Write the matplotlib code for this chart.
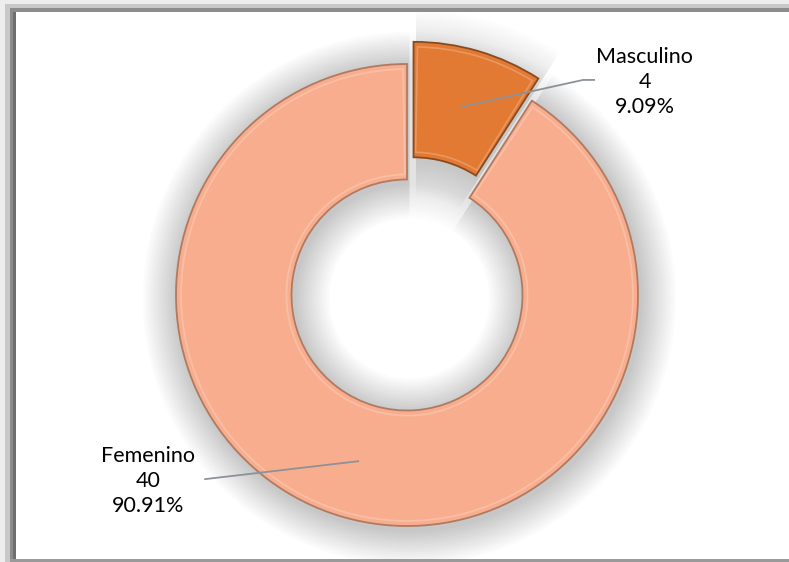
import matplotlib
matplotlib.use("Agg")
import matplotlib.pyplot as plt
import matplotlib.patches as mpatches
import numpy as np

# ---- data ----
labels = ["Masculino", "Femenino"]
values = [4, 40]
percents = ["9.09%", "90.91%"]
colors = ["#E27A33", "#F8AE8E"]
edge_colors = ["#8A4A20", "#B07A60"]
explode = [0.1, 0.0]

plt.rcParams['font.family'] = ['Lato', 'DejaVu Sans']

W, H = 789, 562
fig = plt.figure(figsize=(W / 100, H / 100), dpi=100)
fig.patch.set_facecolor("white")

# frame decoration (figure pixel coords -> fraction)
def frect(x0, y0, x1, y1, color):
    fig.patches.append(mpatches.Rectangle((x0 / W, 1 - y1 / H), (x1 - x0) / W, (y1 - y0) / H,
                                          transform=fig.transFigure, color=color, lw=0, zorder=0))

frect(0, 0, W, 4, "#ededed")
frect(0, 0, 5, H, "#ededed")
frect(5, 4, W, 8, "#c8c8c8")
frect(5, 4, 10, H, "#c8c8c8")
frect(10, 8, W, 12, "#8c8c8c")
frect(10, 8, 16, H, "#8c8c8c")
frect(13, 12, 16, H, "#6e6e6e")
frect(10, 559, W, H, "#9a9a9a")

# axes: centre at pixel (407,295), radius 231 px
cx, cy, R = 407, 295, 231
ax = fig.add_axes([0, 0, 1, 1])
ax.set_facecolor("none")

ring = 0.5
# soft shadow
N = 14
d = 0.011
for k in range(N, 0, -1):
    for ex in (explode, [0.0] * len(values)):
        ax.pie(values, startangle=90, counterclock=False, explode=ex,
               radius=1 + k * d, center=(0.01, -0.015),
               wedgeprops=dict(width=ring + 2 * k * d, facecolor="black", alpha=0.0065, linewidth=0))

wedges, _ = ax.pie(values, startangle=90, counterclock=False, explode=explode,
                   colors=colors, radius=1,
                   wedgeprops=dict(width=ring, linewidth=1.3))
for w, ec in zip(wedges, edge_colors):
    w.set_edgecolor(ec)

# inner highlight for bevel feel
for w, ec in zip(wedges, edge_colors):
    c = w.center
    hl = mpatches.Wedge(c, w.r - 0.022, w.theta1 + 1.0, w.theta2 - 1.0, width=ring - 0.044,
                        facecolor="none", edgecolor="white", alpha=0.22, lw=1.2)
    ax.add_patch(hl)

ax.set_xlim(-cx / R, (W - cx) / R)
ax.set_ylim(-(H - cy) / R, cy / R)
ax.set_aspect("equal")
ax.axis("off")

# labels with leader lines
text_pos = [(1.03, 0.922), (-1.121, -0.805)]
elbows = [[(0.762, 0.931), (0.81, 0.931)], [(-0.874, -0.797)]]
total = sum(values)
start = 90.0
for i, (lab, v, p) in enumerate(zip(labels, values, percents)):
    span = 360.0 * v / total
    mid = np.deg2rad(start - span / 2)
    start -= span
    ax_ = 0.75 * np.cos(mid) + explode[i] * np.cos(mid)
    ay_ = 0.75 * np.sin(mid) + explode[i] * np.sin(mid)
    xs = [ax_] + [e[0] for e in elbows[i]]
    ys = [ay_] + [e[1] for e in elbows[i]]
    ax.plot(xs, ys, color="#8C9297", lw=1.3, zorder=5)
    ax.text(text_pos[i][0], text_pos[i][1], f"{lab}\n{v}\n{p}", ha="center", va="center",
            fontsize=15.5, color="black", linespacing=1.32, zorder=6)

fig.savefig("out.png", dpi=100)
